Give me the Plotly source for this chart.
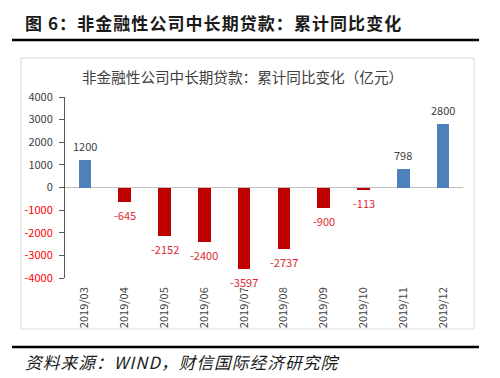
import plotly.graph_objects as go

categories = ["2019/03", "2019/04", "2019/05", "2019/06", "2019/07",
              "2019/08", "2019/09", "2019/10", "2019/11", "2019/12"]
values = [1200, -645, -2152, -2400, -3597, -2737, -900, -113, 798, 2800]
y_ticks_pos = [4000, 3000, 2000, 1000, 0]
y_ticks_neg = [-1000, -2000, -3000, -4000]

BLUE = "#4F81BD"
RED = "#C00000"
LABEL_RED = "#E0282E"
TICK_RED = "#FF0000"
DARK = "#404040"
FONT = "Noto Sans CJK SC"
HS = "\u200a"

W, H = 500, 378
PL, PR, PT, PB = 65, 463, 97, 278  # plot area in pixels


def px(x):
    return (x - PL) / (PR - PL)


def py(y):
    return (PB - y) / (PB - PT)


def spaced(s):
    return HS.join(list(s))


bar_colors = [BLUE if v >= 0 else RED for v in values]

fig = go.Figure()
fig.add_trace(go.Bar(
    x=categories, y=values, marker=dict(color=bar_colors, line=dict(width=0)),
    width=0.32, hoverinfo="x+y",
))
fig.add_trace(go.Scatter(x=[categories[0]], y=[0], yaxis="y2", mode="markers",
                         marker=dict(opacity=0), hoverinfo="skip", showlegend=False))

annotations = []
for c, v in zip(categories, values):
    annotations.append(dict(
        x=c, y=v, xref="x", yref="y", text=str(v), showarrow=False,
        yshift=14 if v >= 0 else -13, yanchor="middle",
        font=dict(family=FONT, size=11, color=DARK if v >= 0 else LABEL_RED),
    ))

annotations += [
    dict(x=px(23), y=py(23), xref="paper", yref="paper", xanchor="left", yanchor="middle",
         text=spaced("图 6：非金融性公司中长期贷款：累计同比变化"), showarrow=False,
         font=dict(family=FONT, size=17, color="#1a1a1a", weight="bold")),
    dict(x=px(242), y=py(76), xref="paper", yref="paper", xanchor="center", yanchor="middle",
         text="非金融性公司中长期贷款：累计同比变化（亿元）", showarrow=False,
         font=dict(family=FONT, size=14.6, color=DARK)),
    dict(x=px(23), y=py(362), xref="paper", yref="paper", xanchor="left", yanchor="middle",
         text=spaced("资料来源：WIND，财信国际经济研究院"), showarrow=False,
         font=dict(family=FONT, size=16.7, color="#1a1a1a", style="italic")),
]

shapes = [
    dict(type="rect", xref="paper", yref="paper", x0=px(21), x1=px(474), y0=py(58), y1=py(329),
         line=dict(color="#D9D9D9", width=1), layer="below"),
    dict(type="line", xref="paper", yref="paper", x0=px(12), x1=px(479), y0=py(40), y1=py(40),
         line=dict(color="#000000", width=2.5)),
    dict(type="line", xref="paper", yref="paper", x0=px(12), x1=px(479), y0=py(347), y1=py(347),
         line=dict(color="#000000", width=2.5)),
]

axis_common = dict(range=[-4000, 4000], showgrid=False,
                   ticks="outside", ticklen=5, tickcolor="#595959", ticklabelstandoff=4)

fig.update_layout(
    width=W, height=H,
    margin=dict(l=PL, r=W - PR, t=PT, b=H - PB, pad=0),
    paper_bgcolor="white", plot_bgcolor="white",
    showlegend=False,
    font=dict(family=FONT, size=11, color=DARK),
    annotations=annotations, shapes=shapes,
    xaxis=dict(type="category", range=[-0.5, 9.5], showgrid=False, zeroline=False,
               showline=False, ticks="", tickangle=-90, ticklabelstandoff=6,
               tickfont=dict(family=FONT, size=11, color=DARK)),
    yaxis=dict(tickvals=y_ticks_pos, ticktext=[str(t) for t in y_ticks_pos],
               zeroline=True, zerolinecolor="#BFBFBF", zerolinewidth=1,
               showline=True, linecolor="#595959", linewidth=1,
               tickfont=dict(family=FONT, size=11, color=DARK), **axis_common),
    yaxis2=dict(overlaying="y", side="left", anchor="x",
                tickvals=y_ticks_neg, ticktext=[str(t) for t in y_ticks_neg],
                zeroline=False, showline=False,
                tickfont=dict(family=FONT, size=11, color=TICK_RED), **axis_common),
    bargap=0,
)

fig.write_html("out.html", config={"displayModeBar": False},
               post_script="document.body.style.margin='0';document.body.style.overflow='hidden';")
